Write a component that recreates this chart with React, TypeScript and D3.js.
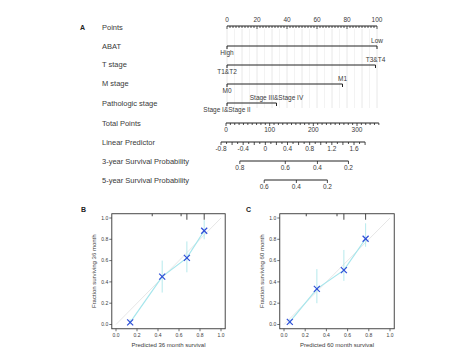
import React from "react";
import * as d3 from "d3";

// ---- Nomogram data ----
const rowLabels = ["Points", "ABAT", "T stage", "M stage", "Pathologic stage", "Total Points", "Linear Predictor", "3-year Survival Probability", "5-year Survival Probability"];
const pointTicks = [0, 20, 40, 60, 80, 100];
const abatLevels = ["High", "Low"];
const abatPoints = [0, 100];
const tLevels = ["T1&T2", "T3&T4"];
const tPoints = [0, 99];
const mLevels = ["M0", "M1"];
const mPoints = [0, 77];
const pathLevels = ["Stage I&Stage II", "Stage III&Stage IV"];
const pathPoints = [0, 33];
const totalTicks = [0, 100, 200, 300];
const lpTicks = [-0.8, -0.4, 0, 0.4, 0.8, 1.2, 1.6];
const surv3Labels = ["0.8", "0.6", "0.4", "0.2"];
const surv3LP = [-0.46, 0.36, 0.94, 1.5];
const surv5Labels = ["0.6", "0.4", "0.2"];
const surv5LP = [-0.02, 0.56, 1.12];

// ---- Calibration data ----
const b_pred = [0.135, 0.44, 0.675, 0.84];
const b_obs = [0.02, 0.45, 0.625, 0.88];
const b_lo = [0.0, 0.3, 0.49, 0.8];
const b_hi = [0.05, 0.6, 0.78, 0.98];
const b_rug = [0.345, 0.62, 0.675, 0.84];
const b_rugLong = [false, false, true, true];

const c_pred = [0.055, 0.31, 0.565, 0.77];
const c_obs = [0.025, 0.335, 0.51, 0.805];
const c_lo = [0.0, 0.2, 0.41, 0.73];
const c_hi = [0.05, 0.52, 0.7, 0.95];
const c_rug = [0.21, 0.5, 0.565, 0.77];
const c_rugLong = [false, false, true, true];

const axisTicks = [0, 0.2, 0.4, 0.6, 0.8, 1.0];

const FONT = "'Liberation Sans', Arial, Helvetica, sans-serif";
const TXT = "#3a3a3a";

function CatRow({ y, levels, pts, sc }: any) {
  const x0 = sc(0);
  const x1 = sc(d3.max(pts) as number);
  return (
    <g>
      <line x1={x0} x2={x1} y1={y} y2={y} stroke="#222" strokeWidth={1} />
      {pts.map((p: number, i: number) => (
        <g key={i}>
          <line x1={sc(p)} x2={sc(p)} y1={y} y2={y + 3} stroke="#222" strokeWidth={1} />
          <text x={sc(p)} y={i === 0 ? y + 9 : y - 3} textAnchor="middle" fontSize={6.5} fill={TXT}>
            {levels[i]}
          </text>
        </g>
      ))}
    </g>
  );
}

function Calib({ label, lx, xr, pred, obs, lo, hi, rug, rugLong, months }: any) {
  const xs = d3.scaleLinear().domain([0, 1]).range(xr);
  const ys = d3.scaleLinear().domain([0, 1]).range([324.5, 218]);
  const fx0 = xs(-0.04), fx1 = xs(1.04), fy0 = ys(-0.04), fy1 = ys(1.04);
  const line = d3.line<number>().x((d, i) => xs(pred[i])).y((d) => ys(d));
  const s = 3;
  return (
    <g>
      <text x={lx} y={212} fontSize={7} fontWeight="bold" fill="#222">{label}</text>
      <line x1={xs(0)} y1={ys(0)} x2={xs(1)} y2={ys(1)} stroke="#e0e0e0" strokeWidth={0.8} />
      {pred.map((p: number, i: number) => (
        <line key={"e" + i} x1={xs(p)} x2={xs(p)} y1={ys(lo[i])} y2={ys(hi[i])} stroke="#aee6ea" strokeWidth={0.9} />
      ))}
      <path d={line(obs) as string} fill="none" stroke="#a6e6ec" strokeWidth={1.2} />
      {rug.map((r: number, i: number) => (
        <line key={"r" + i} x1={xs(r)} x2={xs(r)} y1={fy1} y2={fy1 + (rugLong[i] ? 6 : 2.5)} stroke="#333" strokeWidth={0.9} />
      ))}
      {pred.map((p: number, i: number) => (
        <g key={"m" + i} stroke="#2f4fd8" strokeWidth={1.2}>
          <line x1={xs(p) - s} y1={ys(obs[i]) - s} x2={xs(p) + s} y2={ys(obs[i]) + s} />
          <line x1={xs(p) - s} y1={ys(obs[i]) + s} x2={xs(p) + s} y2={ys(obs[i]) - s} />
        </g>
      ))}
      <rect x={fx0} y={fy1} width={fx1 - fx0} height={fy0 - fy1} fill="none" stroke="#333" strokeWidth={0.9} />
      {axisTicks.map((t) => (
        <g key={"x" + t}>
          <line x1={xs(t)} x2={xs(t)} y1={fy0} y2={fy0 + 2.5} stroke="#333" strokeWidth={0.7} />
          <text x={xs(t)} y={fy0 + 8} fontSize={5} textAnchor="middle" fill={TXT}>{t.toFixed(1)}</text>
          <line x1={fx0} x2={fx0 - 2.5} y1={ys(t)} y2={ys(t)} stroke="#333" strokeWidth={0.7} />
          <text x={fx0 - 3.5} y={ys(t) + 1.8} fontSize={5} textAnchor="end" fill={TXT}>{t.toFixed(1)}</text>
        </g>
      ))}
      <text x={(fx0 + fx1) / 2} y={347} fontSize={6} textAnchor="middle" fill={TXT}>
        {`Predicted ${months} month survival`}
      </text>
      <text transform={`translate(${fx0 - 16},${(fy0 + fy1) / 2}) rotate(-90)`} fontSize={6} textAnchor="middle" fill={TXT}>
        {`Fraction surviving ${months} month`}
      </text>
    </g>
  );
}

export default function App() {
  const ps = d3.scaleLinear().domain([0, 100]).range([227, 377]);
  const ts = d3.scaleLinear().domain([0, 300]).range([226, 357]);
  const ls = d3.scaleLinear().domain([-0.8, 1.6]).range([221, 354]);
  const rowY = [26, 46, 65, 84, 103, 123, 142, 161, 180];
  const labelY = [27, 46, 64, 83, 103, 123, 142, 161, 180];

  const grid = d3.range(0, 101, 5);
  const pMinor = d3.range(0, 101, 2);
  const tMinor = d3.range(0, 351, 10);
  const lMinor = d3.range(-8, 19, 1).map((v) => v / 10);

  return (
    <svg width={474} height={357} style={{ position: "absolute", left: 0, top: 0, fontFamily: FONT }}>
      <rect width={474} height={357} fill="#fff" />
      <text x={80} y={30} fontSize={7} fontWeight="bold" fill="#222">A</text>
      {rowLabels.map((l, i) => (
        <text key={l} x={102} y={labelY[i] + 2.5} fontSize={7.5} fill={TXT}>{l}</text>
      ))}
      {/* grid */}
      {grid.map((g) => (
        <line key={"g" + g} x1={ps(g)} x2={ps(g)} y1={29} y2={108} stroke={g % 10 === 0 ? "#e2e2e2" : "#f0f0f0"} strokeWidth={0.8} />
      ))}
      {/* Points axis */}
      <line x1={ps(0)} x2={ps(100)} y1={rowY[0]} y2={rowY[0]} stroke="#222" strokeWidth={1} />
      {pMinor.map((t) => (
        <line key={"pm" + t} x1={ps(t)} x2={ps(t)} y1={rowY[0]} y2={rowY[0] + (t % 20 === 0 ? 3 : 2)} stroke="#222" strokeWidth={0.8} />
      ))}
      {pointTicks.map((t) => (
        <text key={"pt" + t} x={ps(t)} y={rowY[0] - 4} fontSize={6.5} textAnchor="middle" fill={TXT}>{t}</text>
      ))}
      <CatRow y={rowY[1]} levels={abatLevels} pts={abatPoints} sc={ps} />
      <CatRow y={rowY[2]} levels={tLevels} pts={tPoints} sc={ps} />
      <CatRow y={rowY[3]} levels={mLevels} pts={mPoints} sc={ps} />
      <CatRow y={rowY[4]} levels={pathLevels} pts={pathPoints} sc={ps} />
      {/* Total points */}
      <line x1={ts(0)} x2={ts(350)} y1={rowY[5]} y2={rowY[5]} stroke="#222" strokeWidth={1} />
      {tMinor.map((t) => (
        <line key={"tm" + t} x1={ts(t)} x2={ts(t)} y1={rowY[5]} y2={rowY[5] + (t % 100 === 0 ? 3 : 2)} stroke="#222" strokeWidth={0.8} />
      ))}
      {totalTicks.map((t) => (
        <text key={"tt" + t} x={ts(t)} y={rowY[5] + 9} fontSize={6.5} textAnchor="middle" fill={TXT}>{t}</text>
      ))}
      {/* Linear predictor */}
      <line x1={ls(-0.8)} x2={ls(1.8)} y1={rowY[6]} y2={rowY[6]} stroke="#222" strokeWidth={1} />
      {lMinor.map((t) => (
        <line key={"lm" + t} x1={ls(t)} x2={ls(t)} y1={rowY[6]} y2={rowY[6] + (Math.round(t * 10) % 2 === 0 ? 3 : 2)} stroke="#222" strokeWidth={0.8} />
      ))}
      {lpTicks.map((t) => (
        <text key={"lt" + t} x={ls(t)} y={rowY[6] + 9} fontSize={6.5} textAnchor="middle" fill={TXT}>{t === 0 ? "0" : t.toFixed(1)}</text>
      ))}
      {/* Survival axes */}
      {[{ lab: surv3Labels, lp: surv3LP, y: rowY[7] }, { lab: surv5Labels, lp: surv5LP, y: rowY[8] }].map((s, k) => (
        <g key={"s" + k}>
          <line x1={ls(s.lp[0])} x2={ls(s.lp[s.lp.length - 1])} y1={s.y} y2={s.y} stroke="#222" strokeWidth={1} />
          {s.lp.map((v, i) => (
            <g key={i}>
              <line x1={ls(v)} x2={ls(v)} y1={s.y} y2={s.y + 3} stroke="#222" strokeWidth={0.8} />
              <text x={ls(v)} y={s.y + 9} fontSize={6.5} textAnchor="middle" fill={TXT}>{s.lab[i]}</text>
            </g>
          ))}
        </g>
      ))}
      <Calib label="B" lx={81} xr={[116, 221]} pred={b_pred} obs={b_obs} lo={b_lo} hi={b_hi} rug={b_rug} rugLong={b_rugLong} months={36} />
      <Calib label="C" lx={246} xr={[284, 390]} pred={c_pred} obs={c_obs} lo={c_lo} hi={c_hi} rug={c_rug} rugLong={c_rugLong} months={60} />
    </svg>
  );
}
